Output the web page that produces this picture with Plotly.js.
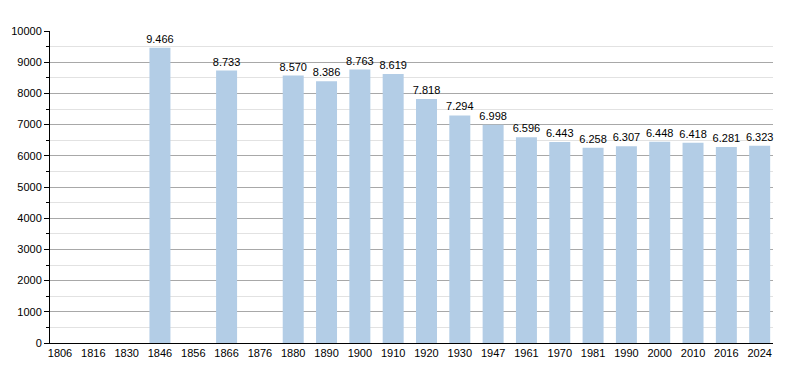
<!DOCTYPE html>
<html><head><meta charset="utf-8">
<script src="https://cdn.plot.ly/plotly-3.0.1.min.js"></script>
<style>html,body{margin:0;padding:0;background:#fff}#c{width:800px;height:373px}</style>
</head><body><div id="c"></div>
<script>
const years = ["1806","1816","1830","1846","1856","1866","1876","1880","1890","1900","1910","1920","1930","1947","1961","1970","1981","1990","2000","2010","2016","2024"];
const population = [null,null,null,9466,null,8733,null,8570,8386,8763,8619,7818,7294,6998,6596,6443,6258,6307,6448,6418,6281,6323];
const labels = population.map(v => v == null ? "" : (v/1000).toFixed(3));

Plotly.newPlot("c", [{
  type: "bar",
  x: years,
  y: population,
  text: labels,
  textposition: "outside",
  constraintext: "none",
  cliponaxis: false,
  textfont: {family: "Liberation Sans, Arial, sans-serif", size: 11, color: "#000"},
  marker: {color: "#b3cde6"},
  width: 0.63,
  hoverinfo: "x+y"
}], {
  width: 800, height: 373,
  margin: {l: 50, r: 27, t: 31, b: 30},
  paper_bgcolor: "#fff", plot_bgcolor: "#fff",
  showlegend: false,
  font: {family: "Liberation Sans, Arial, sans-serif", size: 11, color: "#000"},
  xaxis: {
    type: "category", range: [-0.3, 21.4],
    showline: true, linecolor: "#000", linewidth: 1,
    ticks: "", showgrid: false, tickfont: {size: 11}
  },
  yaxis: {
    range: [0, 10000], dtick: 1000, tick0: 0, tickformat: "d",
    showline: true, linecolor: "#000", linewidth: 1,
    ticks: "outside", ticklen: 5, tickcolor: "#000",
    gridcolor: "#a8a8a8", gridwidth: 1,
    zeroline: false, tickfont: {size: 11},
    minor: {dtick: 500, ticks: "outside", ticklen: 3, tickcolor: "#000", showgrid: true, gridcolor: "#e2e2e2"}
  }
}, {displayModeBar: false, staticPlot: true});
</script></body></html>
